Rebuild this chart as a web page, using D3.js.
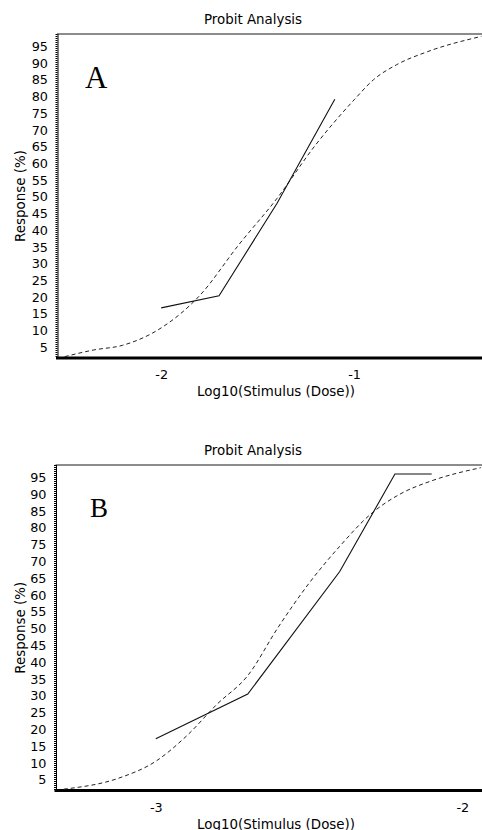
<!DOCTYPE html>
<html>
<head>
<meta charset="utf-8">
<script src="https://cdn.jsdelivr.net/npm/d3@7"></script>
<style>
  body { margin: 0; background: #fff; }
  svg { display: block; }
  text { font-family: "DejaVu Sans", Verdana, sans-serif; fill: #000; }
</style>
</head>
<body>
<svg width="482" height="830"></svg>
<script>
// tick labels
var yTicks = [5, 10, 15, 20, 25, 30, 35, 40, 45, 50, 55, 60, 65, 70, 75, 80, 85, 90, 95];
var xTicksA = [-2, -1];
var xTicksB = [-3, -2];

// panel A: observed (solid) and probit fit (dashed)
var doseA = [-2.0, -1.7, -1.4, -1.1];
var respA = [16.8, 20.4, 48, 79.2];
var fitDoseA = [-2.5, -2.35, -2.2, -2.0, -1.8, -1.6, -1.4, -1.2, -1.0, -0.9, -0.78, -0.62, -0.34];
var fitRespA = [2.2, 4.2, 5.6, 10.8, 20.5, 35.5, 49.5, 65.5, 79, 85, 89.5, 93.4, 98];

// panel B
var doseB = [-3.0, -2.7, -2.4, -2.22, -2.1];
var respB = [17.2, 30.5, 67, 96, 96];
var fitDoseB = [-3.3, -3.12, -3.0, -2.9, -2.8, -2.7, -2.6, -2.5, -2.4, -2.3, -2.2, -2.1, -1.94];
var fitRespB = [2.2, 5.5, 10.5, 18, 27.5, 36, 50.5, 63.5, 74.5, 84, 90.2, 94, 97.9];

var svg = d3.select("svg");

function zip(xs, ys) {
  return xs.map(function(x, i) { return { x: x, y: ys[i] }; });
}

function drawPanel(p) {
  var x = d3.scaleLinear().domain(p.xDomain).range([p.left, p.right]),
    y = d3.scaleLinear().domain([1.8, 98.7]).range([p.bottom, p.top]);

  var g = svg.append("g");

  // title
  g.append("text")
    .attr("x", 253)
    .attr("y", p.top - 10)
    .attr("text-anchor", "middle")
    .style("font-size", "13.4px")
    .text("Probit Analysis");

  // top border
  g.append("line")
    .attr("x1", p.left).attr("x2", p.right)
    .attr("y1", p.top).attr("y2", p.top)
    .attr("stroke", "#666")
    .attr("stroke-width", 1.5);

  // y axis
  var ya = g.append("g")
    .attr("transform", "translate(" + p.left + ",0)")
    .call(d3.axisLeft(y).tickValues(yTicks).tickSize(0).tickPadding(9));
  ya.select(".domain").remove();
  ya.selectAll("text").style("font-size", "12.8px").style("font-family", "DejaVu Sans");
  g.append("line")
    .attr("x1", p.left - 0.5).attr("x2", p.left - 0.5)
    .attr("y1", p.top).attr("y2", p.bottom)
    .attr("stroke", "#000").attr("stroke-width", 2)
    .attr("stroke-dasharray", "1,1");
  g.append("line")
    .attr("x1", p.left + 1).attr("x2", p.left + 1)
    .attr("y1", p.top).attr("y2", p.bottom)
    .attr("stroke", "#000").attr("stroke-width", 1);

  // x axis
  var xa = g.append("g")
    .attr("transform", "translate(0," + p.bottom + ")")
    .call(d3.axisBottom(x).tickValues(p.xTicks).tickSize(0).tickPadding(12)
      .tickFormat(function(d) { return String(d); }));
  xa.select(".domain").remove();
  xa.selectAll("text").style("font-size", "12.8px").style("font-family", "DejaVu Sans");
  g.append("line")
    .attr("x1", p.left - 1).attr("x2", p.right)
    .attr("y1", p.bottom).attr("y2", p.bottom)
    .attr("stroke", "#000").attr("stroke-width", 3);

  // axis titles
  g.append("text")
    .attr("x", 276)
    .attr("y", p.bottom + 38)
    .attr("text-anchor", "middle")
    .style("font-size", "13.4px")
    .text("Log10(Stimulus (Dose))");
  g.append("text")
    .attr("transform", "translate(25," + (p.top + p.bottom) / 2 + ") rotate(-90)")
    .attr("text-anchor", "middle")
    .style("font-size", "13.4px")
    .text("Response (%)");

  // panel letter
  g.append("text")
    .attr("x", p.letterX)
    .attr("y", p.top + p.letterDy)
    .style("font-family", "'Liberation Serif', 'Times New Roman', serif")
    .style("font-size", p.letterSize + "px")
    .text(p.letter);

  var line = d3.line()
    .x(function(d) { return x(d.x); })
    .y(function(d) { return y(d.y); });

  g.append("path")
    .datum(zip(p.fitDose, p.fitResp))
    .attr("d", line.curve(d3.curveMonotoneX))
    .attr("fill", "none")
    .attr("stroke", "#222")
    .attr("stroke-width", 1)
    .attr("stroke-dasharray", "4,3");

  g.append("path")
    .datum(zip(p.dose, p.resp))
    .attr("d", line.curve(d3.curveLinear))
    .attr("fill", "none")
    .attr("stroke", "#111")
    .attr("stroke-width", 1.1);
}

drawPanel({
  left: 57, right: 482, top: 34, bottom: 358,
  xDomain: [-2.54, -0.337], xTicks: xTicksA,
  dose: doseA, resp: respA, fitDose: fitDoseA, fitResp: fitRespA,
  letter: "A", letterX: 85, letterDy: 54, letterSize: 31
});

drawPanel({
  left: 55.5, right: 482, top: 465, bottom: 790.5,
  xDomain: [-3.327, -1.936], xTicks: xTicksB,
  dose: doseB, resp: respB, fitDose: fitDoseB, fitResp: fitRespB,
  letter: "B", letterX: 90, letterDy: 52, letterSize: 27
});
</script>
</body>
</html>
